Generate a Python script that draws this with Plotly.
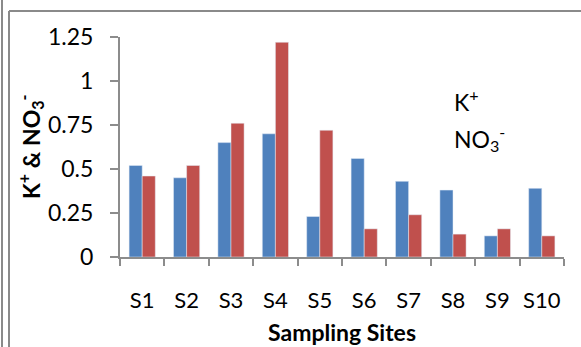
import plotly.graph_objects as go

sites = ["S1", "S2", "S3", "S4", "S5", "S6", "S7", "S8", "S9", "S10"]
potassium = [0.52, 0.45, 0.65, 0.70, 0.23, 0.56, 0.43, 0.38, 0.12, 0.39]
nitrate = [0.46, 0.52, 0.76, 1.22, 0.72, 0.16, 0.24, 0.13, 0.16, 0.12]
y_ticks = [0, 0.25, 0.5, 0.75, 1, 1.25]
y_tick_text = ["0", "0.25", "0.5", "0.75", "1", "1.25"]

FONT = "Lato"
AXIS_GREY = "#8c8c8c"

fig = go.Figure()
fig.add_trace(go.Bar(x=sites, y=potassium, name="K+", marker_color="#4F81BD"))
fig.add_trace(go.Bar(x=sites, y=nitrate, name="NO3-", marker_color="#C0504D"))

# plot area spans x 120..564 px, y 37..257 px
L, R, T, B = 120, 17, 37, 90
W, H = 581, 347
pw, ph = W - L - R, H - T - B


def px_x(x):
    return (x - L) / pw


def px_y(y):
    return (H - B - y) / ph


fig.update_layout(
    width=W, height=H,
    margin=dict(l=L, r=R, t=T, b=B),
    paper_bgcolor="white", plot_bgcolor="white",
    barmode="group", bargap=0.41, bargroupgap=0,
    showlegend=False,
    font=dict(family=FONT, size=23, color="black"),
)
fig.update_xaxes(
    showline=True, linecolor=AXIS_GREY, linewidth=2,
    ticks="outside", tickson="boundaries", ticklen=7, tickcolor=AXIS_GREY, tickwidth=2,
    ticklabelstandoff=23, showgrid=False, tickangle=0,
    tickfont=dict(family=FONT, size=22),
)
fig.update_yaxes(
    range=[0, 1.25], tickvals=y_ticks, ticktext=y_tick_text,
    showline=True, linecolor=AXIS_GREY, linewidth=2,
    ticks="outside", ticklen=8, tickcolor=AXIS_GREY, tickwidth=2,
    ticklabelstandoff=12, showgrid=False, zeroline=False,
    tickfont=dict(family=FONT, size=23),
)

annotations = [
    dict(text="<b>K<sup>+</sup> & NO<sub>3</sub><sup>-</sup></b>", textangle=-90,
         x=px_x(30), y=px_y(147), xanchor="center", yanchor="middle", font=dict(size=23)),
    dict(text="<b>Sampling Sites</b>", x=px_x(342), y=px_y(332),
         xanchor="center", yanchor="middle", font=dict(size=23)),
    dict(text="K<sup>+</sup>", x=px_x(452), y=px_y(100),
         xanchor="left", yanchor="middle", font=dict(size=23)),
    dict(text="NO<sub>3</sub><sup>-</sup>", x=px_x(452), y=px_y(138),
         xanchor="left", yanchor="middle", font=dict(size=23)),
]
for a in annotations:
    a.update(xref="paper", yref="paper", showarrow=False)
fig.update_layout(annotations=annotations)

# frame lines around the chart
frame = dict(color="#8a8a8a", width=2)
fig.add_shape(type="line", xref="paper", yref="paper",
              x0=px_x(2), x1=px_x(2), y0=px_y(0), y1=px_y(H), line=frame)
fig.add_shape(type="line", xref="paper", yref="paper",
              x0=px_x(9), x1=px_x(9), y0=px_y(11), y1=px_y(H), line=frame)
fig.add_shape(type="line", xref="paper", yref="paper",
              x0=px_x(9), x1=px_x(W), y0=px_y(11), y1=px_y(11), line=frame)

fig.write_html("out.html")
